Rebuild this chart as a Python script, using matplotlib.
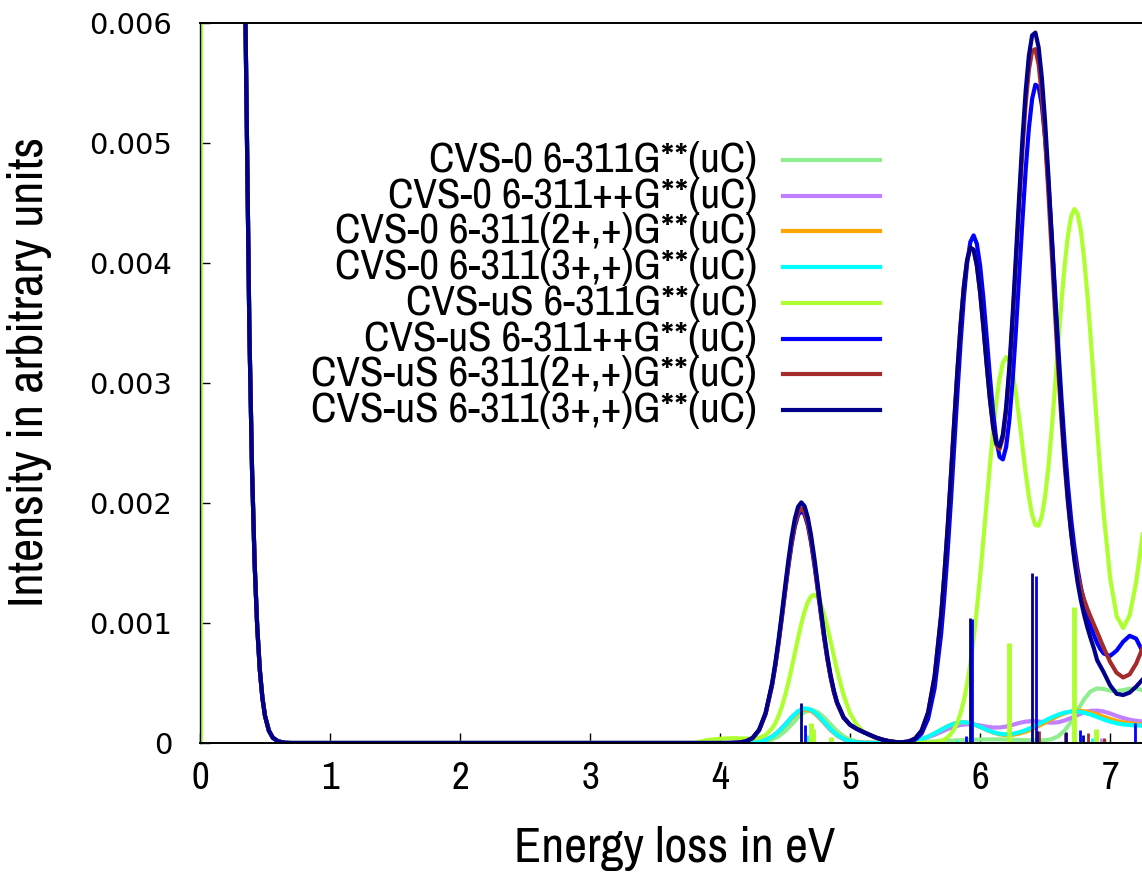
import matplotlib
matplotlib.use("Agg")
import matplotlib.pyplot as plt
from matplotlib.lines import Line2D

# ---------------- data (intensities in units of 1e-6) ----------------
UNIT = 1e-6
elastic_x = [0.30, 0.33, 0.35, 0.38, 0.40, 0.42, 0.44, 0.46, 0.48, 0.50,
             0.53, 0.56, 0.60, 0.65, 0.70, 1.00, 2.00, 3.00, 3.80]
elastic_y = [13900, 8500, 6000, 3420, 2290, 1500, 970, 610, 375, 226,
             102, 44, 14, 2, 0, 0, 0, 0, 0]

# coarse energy grid (CVS-0 curves)
energy_coarse = [3.90, 3.95, 4.00, 4.05, 4.10, 4.15, 4.20, 4.25, 4.30, 4.35,
                 4.40, 4.45, 4.50, 4.55, 4.60, 4.65, 4.70, 4.75, 4.80, 4.85,
                 4.90, 4.95, 5.00, 5.05, 5.10, 5.15, 5.20, 5.25, 5.30, 5.35,
                 5.40, 5.45, 5.50, 5.55, 5.60, 5.65, 5.70, 5.75, 5.80, 5.85,
                 5.90, 5.95, 6.00, 6.05, 6.10, 6.15, 6.20, 6.25, 6.30, 6.35,
                 6.40, 6.45, 6.50, 6.55, 6.60, 6.65, 6.70, 6.75, 6.80, 6.85,
                 6.90, 6.95, 7.00, 7.05, 7.10, 7.15, 7.20, 7.25]

cvs0_311 = [0,0,0,0,0,0,0,2,5,12, 28,56,99,155,213,258,275,258,213,155,
            99,56,28,12,5,2,2,2,2,3, 4,5,7,9,11,13,16,18,21,23,
            25,27,29,30,30,30,29,27,26,24, 22,21,23,32,56,103,178,273,365,430,
            455,450,436,432,441,452,454,440]
cvs0_pp = [0,0,0,0,0,0,1,4,11,27, 54,98,154,215,264,285,271,226,167,108,
           62,31,14,6,3,2,2,2,3,5, 8,13,21,33,49,69,92,116,136,150,
           156,154,146,136,129,129,137,151,167,178, 183,179,173,169,173,187,209,233,255,268,
           270,262,246,226,208,194,185,179]
cvs0_2p = [0,0,0,0,0,0,1,4,10,24, 50,91,146,206,255,279,269,228,170,111,
           64,33,15,6,2,1,0,0,1,2, 4,9,18,32,53,80,110,139,162,173,
           171,156,133,108,87,72,66,68,78,94, 116,142,170,199,226,248,263,269,265,254,
           238,218,200,184,172,164,158,152]
cvs0_3p = [0,0,0,0,0,0,1,4,11,25, 52,94,151,213,265,289,278,236,176,115,
           67,34,15,6,2,1,0,0,1,2, 4,9,18,32,53,80,110,139,162,173,
           171,157,134,110,90,77,72,77,89,107, 131,158,186,213,236,253,262,262,253,237,
           217,196,178,164,155,150,147,144]

# fine energy grid (CVS-uS curves)
energy_fine = [3.90, 3.95, 4.00, 4.05, 4.10, 4.15, 4.20, 4.25, 4.30, 4.35, 4.40,
               4.425, 4.45, 4.475, 4.50, 4.525, 4.55, 4.575, 4.60, 4.625, 4.65,
               4.675, 4.70, 4.725, 4.75, 4.775, 4.80, 4.825, 4.85, 4.875, 4.90,
               4.95, 5.00, 5.05, 5.10, 5.15, 5.20, 5.25, 5.30, 5.35, 5.40,
               5.45, 5.50, 5.55, 5.60, 5.65, 5.70,
               5.725, 5.75, 5.775, 5.80, 5.825, 5.85, 5.875, 5.90, 5.925, 5.95,
               5.975, 6.00, 6.025, 6.05, 6.075, 6.10, 6.125, 6.15, 6.175, 6.20,
               6.225, 6.25, 6.275, 6.30, 6.325, 6.35, 6.375, 6.40, 6.425, 6.45,
               6.475, 6.50, 6.525, 6.55, 6.575, 6.60, 6.625, 6.65, 6.675, 6.70,
               6.725, 6.75, 6.775, 6.80, 6.825, 6.85, 6.875, 6.90, 6.925, 6.95,
               7.00, 7.05, 7.10, 7.15, 7.20, 7.25]

cvsus_311 = [24,30,35,39,40,39,37,37,43,66,121,
             166,226,302,395,502,622,749,876,995,1097,
             1175,1223,1235,1212,1156,1071,966,848,725,606,
             398,247,152,96,63,42,26,15,8,4,
             2,1,1,2,6,18,
             29,47,75,115,171,250,355,492,663,871,
             1116,1392,1692,2004,2312,2600,2849,3043,3168,3216,
             3185,3082,2917,2709,2479,2252,2052,1901,1816,1811,
             1891,2057,2300,2605,2952,3315,3667,3979,4226,4387,
             4450,4409,4267,4036,3734,3381,3001,2617,2249,1911,
             1375,1057,959,1064,1340,1738]
cvsus_pp = [0,0,0,0,1,4,14,41,106,242,481,
            644,833,1041,1258,1468,1655,1804,1900,1935,1904,
            1813,1669,1487,1285,1077,878,700,548,425,330,
            210,151,118,92,68,45,27,15,8,5,
            9,27,79,202,456,908,
            1222,1592,2010,2457,2910,3339,3712,3999,4176,4230,
            4159,3977,3708,3389,3057,2756,2521,2384,2363,2467,
            2693,3024,3433,3888,4348,4772,5123,5368,5486,5466,
            5312,5039,4672,4242,3781,3319,2883,2490,2150,1865,
            1633,1447,1296,1172,1068,978,900,834,782,746,
            726,770,844,893,870,762]
cvsus_2p = [0,0,0,0,1,4,14,41,108,245,486,
            651,842,1052,1271,1483,1672,1823,1920,1955,1924,
            1831,1686,1503,1298,1088,887,706,553,429,333,
            212,151,118,92,68,45,28,15,8,6,
            13,37,103,255,555,1064,
            1404,1794,2222,2666,3098,3488,3805,4024,4128,4110,
            3978,3753,3466,3156,2864,2629,2484,2451,2544,2763,
            3093,3511,3984,4471,4931,5322,5610,5767,5782,5654,
            5395,5028,4585,4100,3606,3131,2698,2320,2005,1751,
            1553,1401,1285,1194,1118,1051,987,924,859,795,
            675,585,546,572,661,791]
cvsus_3p = [0,0,0,0,1,4,14,42,110,251,499,
            668,863,1079,1303,1521,1715,1869,1969,2005,1973,
            1878,1729,1541,1330,1115,908,723,565,438,339,
            214,152,118,92,68,45,28,15,8,6,
            13,37,103,255,555,1064,
            1404,1794,2222,2666,3098,3488,3805,4025,4128,4110,
            3979,3755,3470,3161,2872,2640,2499,2472,2572,2798,
            3138,3567,4052,4552,5025,5429,5728,5897,5920,5797,
            5541,5174,4727,4233,3726,3235,2781,2379,2036,1752,
            1521,1337,1188,1067,963,872,789,690,640,590,
            480,410,400,420,470,530]

# stick spectra: (energy, intensity in 1e-6)
sticks_cvs0_311 = [(6.96, 30)]
sticks_cvs0_pp = [(5.89, 25), (6.93, 40)]
sticks_cvs0_2p = [(6.95, 30)]
sticks_cvs0_3p = [(4.665, 70), (5.82, 25), (6.62, 15), (6.86, 45)]
sticks_cvsus_311 = [(0.0, 140000), (4.70, 170), (4.715, 120), (4.85, 50), (6.22, 830), (6.72, 1130), (6.89, 120)]
sticks_cvsus_pp = [(4.655, 150), (5.89, 60), (5.935, 1030), (6.43, 1390), (6.77, 110), (7.19, 170)]
sticks_cvsus_2p = [(6.45, 100), (6.655, 80), (6.83, 80), (6.95, 40)]
sticks_cvsus_3p = [(4.62, 330), (5.92, 1040), (6.40, 1420), (6.44, 100), (6.66, 90), (6.79, 70)]

labels = ["CVS-0 6-311G**(uC)", "CVS-0 6-311++G**(uC)", "CVS-0 6-311(2+,+)G**(uC)",
          "CVS-0 6-311(3+,+)G**(uC)", "CVS-uS 6-311G**(uC)", "CVS-uS 6-311++G**(uC)",
          "CVS-uS 6-311(2+,+)G**(uC)", "CVS-uS 6-311(3+,+)G**(uC)"]
colors = ["#90ee90", "#c080ff", "#ffa500", "#00ffff", "#adff2f", "#0000ff", "#a52a2a", "#00008b"]
series = [cvs0_311, cvs0_pp, cvs0_2p, cvs0_3p, cvsus_311, cvsus_pp, cvsus_2p, cvsus_3p]
grids = [energy_coarse] * 4 + [energy_fine] * 4
sticks = [sticks_cvs0_311, sticks_cvs0_pp, sticks_cvs0_2p, sticks_cvs0_3p,
          sticks_cvsus_311, sticks_cvsus_pp, sticks_cvsus_2p, sticks_cvsus_3p]
xticks = [0, 1, 2, 3, 4, 5, 6, 7]
yticks = [0, 0.001, 0.002, 0.003, 0.004, 0.005, 0.006]
ytick_labels = ["0", "0.001", "0.002", "0.003", "0.004", "0.005", "0.006"]

# ---------------- figure ----------------
W, H = 1142, 873
fig = plt.figure(figsize=(W / 100, H / 100), dpi=100)
ax = fig.add_axes([200 / W, 130 / H, 1 - 200 / W, 720 / H])

NARROW = ["Archivo Narrow", "Liberation Sans", "DejaVu Sans"]

for xs, ys, st, col in zip(grids, series, sticks, colors):
    x_all = elastic_x + xs
    y_all = [v * UNIT for v in elastic_y + ys]
    ax.plot(x_all, y_all, color=col, lw=3.0, solid_joinstyle="round", zorder=2)
    if st:
        sx = [p[0] for p in st]
        sy = [p[1] * UNIT for p in st]
        ax.vlines(sx, 0, sy, color=col, lw=2.0 if sx[0] > 0 else 3.5, zorder=2)

ax.set_xlim(0, 7.245)
ax.set_ylim(0, 0.006)
ax.set_xticks(xticks)
ax.set_xticklabels([str(t) for t in xticks], fontfamily=NARROW, fontsize=28)
ax.set_yticks(yticks)
ax.set_yticklabels(ytick_labels, fontfamily=["DejaVu Sans"], fontsize=21)
ax.tick_params(axis="both", direction="in", length=7, width=1, colors="black")
ax.tick_params(axis="x", pad=13)
ax.tick_params(axis="y", pad=20)
ax.spines["right"].set_visible(False)
for s in ["top", "bottom"]:
    ax.spines[s].set_linewidth(1.4)
    ax.spines[s].set_zorder(5)
ax.spines["left"].set_linewidth(1.0)
ax.spines["left"].set_zorder(5)

fig.text(675 / W, 1 - 862 / H, "Energy loss in eV", ha="center", va="baseline",
         fontfamily=NARROW, fontsize=36)
fig.text(30 / W, 1 - 372 / H, "Intensity in arbitrary units", ha="center", va="center",
         rotation=90, fontfamily=NARROW, fontsize=36.5)

for i, (lab, col) in enumerate(zip(labels, colors)):
    yf = 1 - (160 + 35.7 * i) / H
    fig.text(757 / W, yf, lab, ha="right", va="center", fontfamily=NARROW, fontsize=31)
    fig.add_artist(Line2D([783 / W, 880 / W], [yf, yf], color=col, lw=3.0))

fig.savefig("out.png", dpi=100)
